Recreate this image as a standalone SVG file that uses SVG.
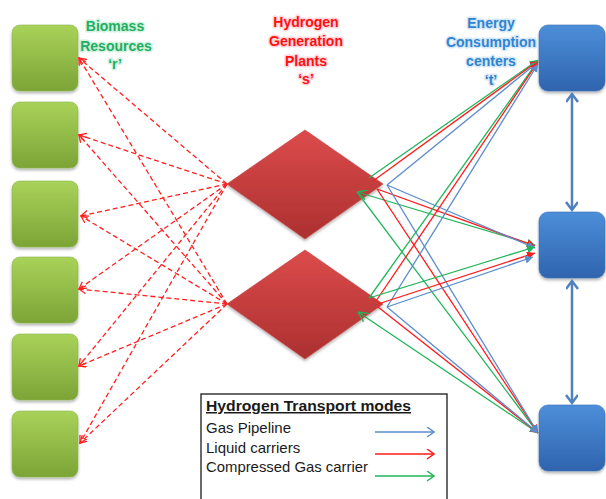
<svg xmlns="http://www.w3.org/2000/svg" width="606" height="499" viewBox="0 0 606 499">
<style>
.title{font-family:"Liberation Sans",Arial,sans-serif;font-weight:bold;font-size:14px;text-anchor:middle;paint-order:stroke;stroke-width:3px;stroke-linejoin:round}
.tg{fill:#1fae62;stroke:#d4f2e0}
.tr{fill:#ff1010;stroke:#ffd6dc}
.tb{fill:#2f84d0;stroke:#d6e8f8}
.res{fill:url(#gGreen);stroke:#8cb848;stroke-width:0.6;filter:url(#sh)}
.ctr{fill:url(#gBlue);stroke:#3a6fb5;stroke-width:0.6;filter:url(#sh)}
.plant{fill:url(#gRed);stroke:#c84040;stroke-width:0.6;filter:url(#sh)}
.dash{fill:none;stroke:#ff2020;stroke-width:1.3;stroke-dasharray:5 3;marker-end:url(#mDash)}
.cb{fill:none;stroke:#5b8ccc;stroke-width:1.3;marker-end:url(#mB)}
.cr{fill:none;stroke:#ff1a1a;stroke-width:1.3;marker-end:url(#mR)}
.cg{fill:none;stroke:#1fb55a;stroke-width:1.3;marker-end:url(#mG)}
.dbl{fill:none;stroke:#4f81bd;stroke-width:2.5;marker-start:url(#mDbl);marker-end:url(#mDbl)}
.lt{font-family:"Liberation Sans",Arial,sans-serif;font-size:15px;fill:#1a1a1a}
</style>
<defs>
<linearGradient id="gGreen" x1="0" y1="0" x2="0" y2="1">
<stop offset="0" stop-color="#a9d25a"/><stop offset="1" stop-color="#7ca436"/>
</linearGradient>
<linearGradient id="gBlue" x1="0" y1="0" x2="0" y2="1">
<stop offset="0" stop-color="#4d8ed9"/><stop offset="1" stop-color="#2f64ae"/>
</linearGradient>
<linearGradient id="gRed" x1="0" y1="0" x2="0" y2="1">
<stop offset="0" stop-color="#dc4b4b"/><stop offset="1" stop-color="#ac3030"/>
</linearGradient>
<filter id="sh" x="-20%" y="-20%" width="140%" height="140%">
<feDropShadow dx="0" dy="2" stdDeviation="1.5" flood-color="#000" flood-opacity="0.3"/>
</filter>
<marker id="mDash" markerUnits="userSpaceOnUse" markerWidth="10" markerHeight="10" refX="7" refY="4" orient="auto">
<path d="M0,0 L7,4 L0,8" fill="none" stroke="#ff2020" stroke-width="1.3"/>
</marker>
<marker id="mB" markerUnits="userSpaceOnUse" markerWidth="10" markerHeight="10" refX="8" refY="4" orient="auto">
<path d="M0,0 L8,4 L0,8 Z" fill="#5b8ccc"/>
</marker>
<marker id="mR" markerUnits="userSpaceOnUse" markerWidth="10" markerHeight="10" refX="8" refY="4" orient="auto">
<path d="M0,0 L8,4 L0,8 Z" fill="#ff1a1a"/>
</marker>
<marker id="mG" markerUnits="userSpaceOnUse" markerWidth="10" markerHeight="10" refX="8" refY="4" orient="auto">
<path d="M0,0 L8,4 L0,8 Z" fill="#1fb55a"/>
</marker>
<marker id="mGs" markerUnits="userSpaceOnUse" markerWidth="12" markerHeight="12" refX="0" refY="5" orient="auto">
<path d="M10,0 L0,5 L10,10" fill="none" stroke="#1fb55a" stroke-width="1.3"/>
</marker>
<marker id="mDbl" markerUnits="userSpaceOnUse" markerWidth="14" markerHeight="14" refX="9" refY="6" orient="auto-start-reverse">
<path d="M1,0 L9,6 L1,12" fill="none" stroke="#4f81bd" stroke-width="2.5"/>
</marker>
<marker id="mLb" markerUnits="userSpaceOnUse" markerWidth="12" markerHeight="12" refX="8" refY="5" orient="auto">
<path d="M1,0 L8,5 L1,10" fill="none" stroke="#5b8ccc" stroke-width="1.5"/>
</marker>
<marker id="mLr" markerUnits="userSpaceOnUse" markerWidth="12" markerHeight="12" refX="8" refY="5" orient="auto">
<path d="M1,0 L8,5 L1,10" fill="none" stroke="#ff1a1a" stroke-width="1.5"/>
</marker>
<marker id="mLg" markerUnits="userSpaceOnUse" markerWidth="12" markerHeight="12" refX="8" refY="5" orient="auto">
<path d="M1,0 L8,5 L1,10" fill="none" stroke="#1fb55a" stroke-width="1.5"/>
</marker>
</defs>
<rect width="606" height="499" fill="#ffffff"/>

<g id="titles">
<text class="title tg" x="115" y="31">Biomass</text>
<text class="title tg" x="116" y="51">Resources</text>
<text class="title tg" x="115" y="69">‘r’</text>
<text class="title tr" x="306" y="27">Hydrogen</text>
<text class="title tr" x="306" y="46">Generation</text>
<text class="title tr" x="306" y="66">Plants</text>
<text class="title tr" x="306" y="84">‘s’</text>
<text class="title tb" x="491" y="28">Energy</text>
<text class="title tb" x="491" y="47">Consumption</text>
<text class="title tb" x="491" y="66">centers</text>
<text class="title tb" x="491" y="85">‘t’</text>
</g>

<g id="resources">
<g id="r1"><rect class="res" x="12" y="25" width="66" height="66" rx="8"/></g>
<g id="r2"><rect class="res" x="12" y="102" width="66" height="66" rx="8"/></g>
<g id="r3"><rect class="res" x="12" y="181" width="66" height="66" rx="8"/></g>
<g id="r4"><rect class="res" x="12" y="257" width="66" height="66" rx="8"/></g>
<g id="r5"><rect class="res" x="12" y="334" width="66" height="66" rx="8"/></g>
<g id="r6"><rect class="res" x="12" y="411" width="66" height="66" rx="8"/></g>
</g>

<g id="plants">
<g id="s1"><polygon class="plant" points="305,130 383,184 305,239 227,184"/></g>
<g id="s2"><polygon class="plant" points="305,250 383,304 305,359 227,304"/></g>
</g>

<g id="centers">
<g id="t1"><rect class="ctr" x="539" y="25" width="66" height="66" rx="9"/></g>
<g id="t2"><rect class="ctr" x="539" y="212" width="66" height="66" rx="9"/></g>
<g id="t3"><rect class="ctr" x="539" y="405" width="66" height="66" rx="9"/></g>
</g>

<g id="connectors">
<!-- biomass to plants (dashed) -->
<line class="dash" x1="227" y1="184" x2="79" y2="58"/>
<line class="dash" x1="227" y1="184" x2="79" y2="135"/>
<line class="dash" x1="227" y1="184" x2="81" y2="216"/>
<line class="dash" x1="227" y1="184" x2="79" y2="289"/>
<line class="dash" x1="227" y1="184" x2="79" y2="366"/>
<line class="dash" x1="227" y1="184" x2="80" y2="443"/>
<line class="dash" x1="227" y1="304" x2="79" y2="58"/>
<line class="dash" x1="227" y1="304" x2="79" y2="135"/>
<line class="dash" x1="227" y1="304" x2="81" y2="216"/>
<line class="dash" x1="227" y1="304" x2="79" y2="289"/>
<line class="dash" x1="227" y1="304" x2="79" y2="366"/>
<line class="dash" x1="227" y1="304" x2="80" y2="443"/>
<!-- plant 1 to centers -->
<line class="cg" x1="369" y1="178" x2="538" y2="60"/>
<line class="cr" x1="373" y1="181" x2="538" y2="61"/>
<line class="cb" x1="387" y1="185" x2="538" y2="62"/>
<line class="cg" x1="357" y1="192" x2="535" y2="245" style="marker-start:url(#mGs)"/>
<line class="cr" x1="377" y1="189" x2="535" y2="246"/>
<line class="cb" x1="387" y1="185" x2="535" y2="248"/>
<line class="cg" x1="357" y1="192" x2="538" y2="433"/>
<line class="cr" x1="377" y1="189" x2="538" y2="433"/>
<line class="cb" x1="387" y1="185" x2="538" y2="433"/>
<!-- plant 2 to centers -->
<line class="cg" x1="369" y1="298" x2="538" y2="61"/>
<line class="cr" x1="376" y1="301" x2="538" y2="62"/>
<line class="cb" x1="387" y1="307" x2="538" y2="64"/>
<line class="cg" x1="369" y1="298" x2="535" y2="247"/>
<line class="cr" x1="378" y1="304" x2="535" y2="253"/>
<line class="cb" x1="387" y1="307" x2="533" y2="257"/>
<line class="cg" x1="358" y1="312" x2="538" y2="433" style="marker-start:url(#mGs)"/>
<line class="cr" x1="378" y1="307" x2="538" y2="433"/>
<line class="cb" x1="387" y1="307" x2="538" y2="433"/>
<!-- between centers -->
<line class="dbl" x1="572" y1="94" x2="572" y2="210"/>
<line class="dbl" x1="572" y1="281" x2="572" y2="403"/>
</g>

<g id="legend">
<rect x="201" y="394" width="246" height="112" fill="#ffffff" stroke="#1a1a1a" stroke-width="1.3"/>
<text class="lt" x="206" y="411" font-weight="bold" text-decoration="underline" textLength="205" lengthAdjust="spacingAndGlyphs">Hydrogen Transport modes</text>
<text class="lt" x="206" y="433">Gas Pipeline</text>
<text class="lt" x="206" y="453">Liquid carriers</text>
<text class="lt" x="206" y="472" textLength="162" lengthAdjust="spacingAndGlyphs">Compressed Gas carrier</text>
<line x1="375" y1="432" x2="434" y2="432" stroke="#5b8ccc" stroke-width="1.5" marker-end="url(#mLb)"/>
<line x1="375" y1="454" x2="434" y2="454" stroke="#ff1a1a" stroke-width="1.5" marker-end="url(#mLr)"/>
<line x1="375" y1="476" x2="434" y2="476" stroke="#1fb55a" stroke-width="1.5" marker-end="url(#mLg)"/>
</g>
</svg>
